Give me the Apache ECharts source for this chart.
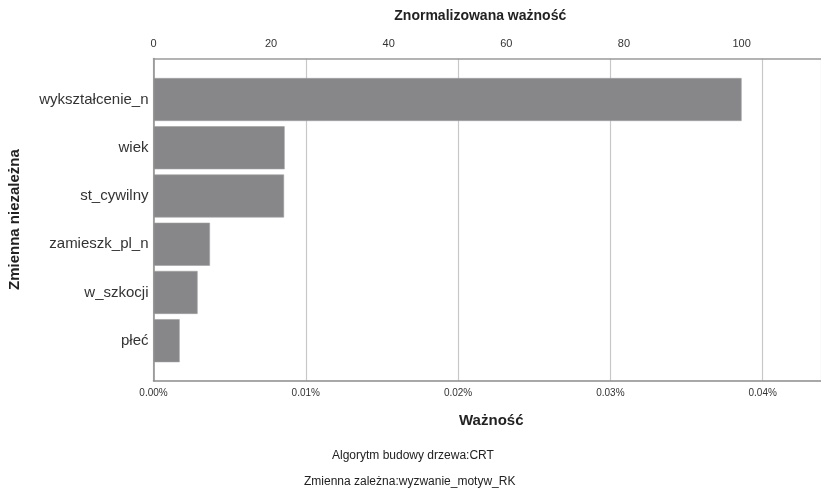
<!DOCTYPE html>
<html>
<head>
<meta charset="utf-8">
<script src="https://cdn.jsdelivr.net/npm/echarts@6/dist/echarts.min.js"></script>
<style>
  html, body { margin: 0; padding: 0; background: #fff; }
  #chart { width: 821px; height: 489px; }
</style>
</head>
<body>
<div id="chart"></div>
<script>
// zmienne niezależne, od góry
var categories = ["wykształcenie_n", "wiek", "st_cywilny", "zamieszk_pl_n", "w_szkocji", "płeć"];
// znormalizowana ważność (0-100)
var normalized = [100, 22.3, 22.2, 9.6, 7.5, 4.45];
var topTicks = [0, 20, 40, 60, 80, 100];
var bottomTicks = [0, 0.01, 0.02, 0.03, 0.04]; // w procentach

var font = '"Liberation Sans Narrow", "Arial Narrow", "Liberation Sans", Arial, sans-serif';
var topMax = 113.5;      // skala górna
var bottomMax = 0.04383; // skala dolna (%)

var myChart = echarts.init(document.getElementById("chart"));
myChart.setOption({
  animation: false,
  textStyle: { fontFamily: font },
  title: [
    {
      text: "Algorytm budowy drzewa:CRT",
      left: 327, top: 445,
      textStyle: { fontSize: 12, fontWeight: "normal", color: "#222", fontFamily: font }
    },
    {
      text: "Zmienna zależna:wyzwanie_motyw_RK",
      left: 299, top: 471,
      textStyle: { fontSize: 12, fontWeight: "normal", color: "#222", fontFamily: font }
    }
  ],
  grid: [
    // ramka z osiami
    { left: 153.5, right: 0, top: 58.5, bottom: 108.3, outerBoundsMode: "none", containLabel: false },
    // obszar słupków
    { left: 153.5, right: 0, top: 75.4, bottom: 124.2, outerBoundsMode: "none", containLabel: false }
  ],
  xAxis: [
    {
      gridIndex: 0, type: "value", position: "bottom",
      min: 0, max: bottomMax, interval: 0.01,
      name: "Ważność", nameLocation: "middle", nameGap: 33,
      nameTextStyle: { fontSize: 15, fontWeight: "bold", color: "#222", fontFamily: font, padding: [0, 0, 0, 8] },
      axisLine: { show: true, lineStyle: { color: "#8c8c8c", width: 1.5 } },
      axisTick: { show: false },
      splitLine: { show: true, lineStyle: { color: "#c8c8c8", width: 1.2 } },
      axisLabel: {
        fontSize: 10, color: "#333", margin: 8, showMaxLabel: false,
        formatter: function (v) { return v.toFixed(2) + "%"; }
      }
    },
    {
      gridIndex: 0, type: "value", position: "top",
      min: 0, max: topMax, interval: 20,
      name: "Znormalizowana ważność", nameLocation: "middle", nameGap: 35,
      nameTextStyle: { fontSize: 14, fontWeight: "bold", color: "#222", fontFamily: font, padding: [0, 14, 0, 0] },
      axisLine: { show: true, lineStyle: { color: "#9a9a9a", width: 1.5 } },
      axisTick: { show: false },
      splitLine: { show: false },
      axisLabel: { fontSize: 11, color: "#333", margin: 9, showMaxLabel: false }
    },
    {
      gridIndex: 1, type: "value", min: 0, max: topMax, show: false
    }
  ],
  yAxis: [
    {
      gridIndex: 0, type: "value", min: 0, max: 1,
      name: "Zmienna niezależna", nameLocation: "middle", nameGap: 131, nameRotate: 90,
      nameTextStyle: { fontSize: 15, fontWeight: "bold", color: "#222", fontFamily: font },
      axisLine: { show: true, lineStyle: { color: "#8c8c8c", width: 1.5 } },
      axisTick: { show: false },
      axisLabel: { show: false },
      splitLine: { show: false }
    },
    {
      gridIndex: 1, type: "category", inverse: true,
      data: categories,
      axisLine: { show: false },
      axisTick: { show: false },
      axisLabel: { fontSize: 15, color: "#333", margin: 5 }
    }
  ],
  series: [
    {
      type: "bar",
      xAxisIndex: 2, yAxisIndex: 1,
      barWidth: 43,
      itemStyle: { color: "#87878a", borderColor: "#a0a0a2", borderWidth: 0.6 },
      data: normalized
    }
  ]
});
</script>
</body>
</html>
